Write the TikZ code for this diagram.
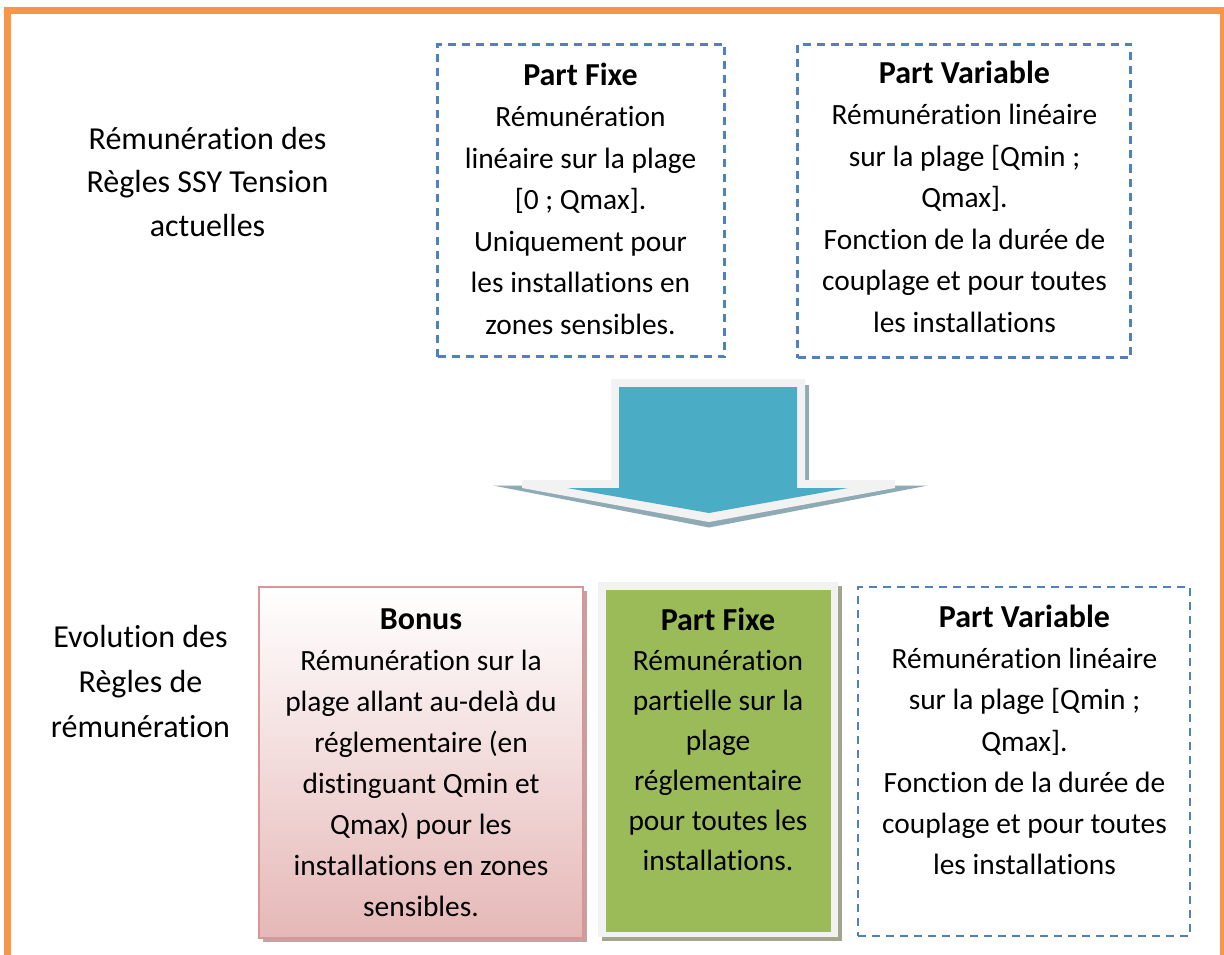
\documentclass[tikz,border=0pt]{standalone}
\usepackage{fontspec}
\setmainfont{Carlito}[Ligatures=NoCommon]
\definecolor{frameorange}{HTML}{F79646}
\definecolor{dashblue}{HTML}{4F81BD}
\definecolor{arrowblue}{HTML}{4BACC6}
\definecolor{arrowrim}{HTML}{F2F2F2}
\definecolor{arrowshadow}{HTML}{8EAAB4}
\definecolor{bonusedge}{HTML}{D99694}
\definecolor{bonusbottom}{HTML}{E5B8B7}
\definecolor{bonusshadow}{HTML}{C4A2A2}
\definecolor{fixgreen}{HTML}{9BBB59}
\definecolor{greenshadow}{HTML}{A3A68C}
\newcommand{\bodysize}[1]{\fontsize{29.4}{#1}\selectfont}
\newcommand{\sidesize}[1]{\fontsize{32}{#1}\selectfont}
\newcommand{\headline}[1]{{\fontsize{32}{41.5}\selectfont\bfseries\strut #1}}
\begin{document}
\begin{tikzpicture}[x=1pt,y=-1pt,
  frame/.style={draw=frameorange,line width=7pt},
  dashbox/.style={draw=dashblue,line width=2.4pt,dash pattern=on 8pt off 6pt,inner sep=0pt},
  txt/.style={align=center,inner sep=0pt,font=\bodysize{41.5}},
  sidetxt/.style={align=center,inner sep=0pt}]
\useasboundingbox (0,0) rectangle (1224,955);
\clip (0,0) rectangle (1224,955);

% outer frame
\draw[frame] (7.5,10.5) rectangle (1223.5,970);

% side labels
\node[sidetxt,font=\sidesize{43.5}] (labA) at (207.5,183.8)
  {\strut Rémunération des\\Règles SSY Tension\\actuelles\strut};
\node[sidetxt,font=\sidesize{45}] (labB) at (140.5,683)
  {\strut Evolution des\\Règles de\\rémunération\strut};

% current rules: dashed boxes
\node[dashbox,minimum width=287pt,minimum height=312pt] (fixeA) at (581,200.5) {};
\node[txt] (fixeAtxt) at (580.5,201.2)
  {\headline{Part Fixe}\\Rémunération\\linéaire sur la plage\\{[}0 ; Qmax{]}.\\Uniquement pour\\les installations en\\zones sensibles.\strut};
\node[dashbox,minimum width=333pt,minimum height=313pt] (varA) at (964,201) {};
\node[txt] (varAtxt) at (964.5,199.2)
  {\headline{Part Variable}\\Rémunération linéaire\\sur la plage {[}Qmin ;\\Qmax{]}.\\Fonction de la durée de\\couplage et pour toutes\\les installations\strut};

% block arrow: shadow, light rim, blue body
\fill[arrowshadow] (805,385) rectangle (808.5,482);
\fill[arrowshadow] (493,485.5) -- (928,485.5) -- (709,527.5) -- cycle;
\fill[arrowrim] (611,379) -- (805,379) -- (805,480) -- (895,480) -- (895,488)
  -- (709,522) -- (522,488) -- (522,480) -- (611,480) -- cycle;
\fill[arrowblue] (619,387) -- (797,387) -- (797,488) -- (848,488)
  -- (709,513) -- (567,488) -- (619,488) -- cycle;

% new rules: bonus box
\fill[bonusshadow] (262.5,590.5) rectangle (586.5,941.5);
\node[draw=bonusedge,line width=2pt,top color=white,bottom color=bonusbottom,
  minimum width=324pt,minimum height=351pt,inner sep=0pt] (bonus) at (421,762.5) {};
\node[txt,font=\bodysize{41}] (bonustxt) at (421,765)
  {\headline{Bonus}\\Rémunération sur la\\plage allant au-delà du\\réglementaire (en\\distinguant Qmin et\\Qmax) pour les\\installations en zones\\sensibles.\strut};

% new rules: fixed part
\fill[greenshadow] (601.5,585.5) rectangle (841.5,940.5);
\fill[arrowrim] (598,582) rectangle (838,937);
\node[fill=fixgreen,minimum width=225pt,minimum height=342pt,inner sep=0pt] (fixeB) at (718.5,761) {};
\node[txt,font=\bodysize{40}] (fixeBtxt) at (718,742)
  {\headline{Part Fixe}\\Rémunération\\partielle sur la\\plage\\réglementaire\\pour toutes les\\installations.\strut};

% new rules: variable part
\node[dashbox,minimum width=332pt,minimum height=349pt] (varB) at (1024,761.5) {};
\node[txt,font=\bodysize{41.3}] (varBtxt) at (1024.5,742.7)
  {\headline{Part Variable}\\Rémunération linéaire\\sur la plage {[}Qmin ;\\Qmax{]}.\\Fonction de la durée de\\couplage et pour toutes\\les installations\strut};
\end{tikzpicture}
\end{document}
